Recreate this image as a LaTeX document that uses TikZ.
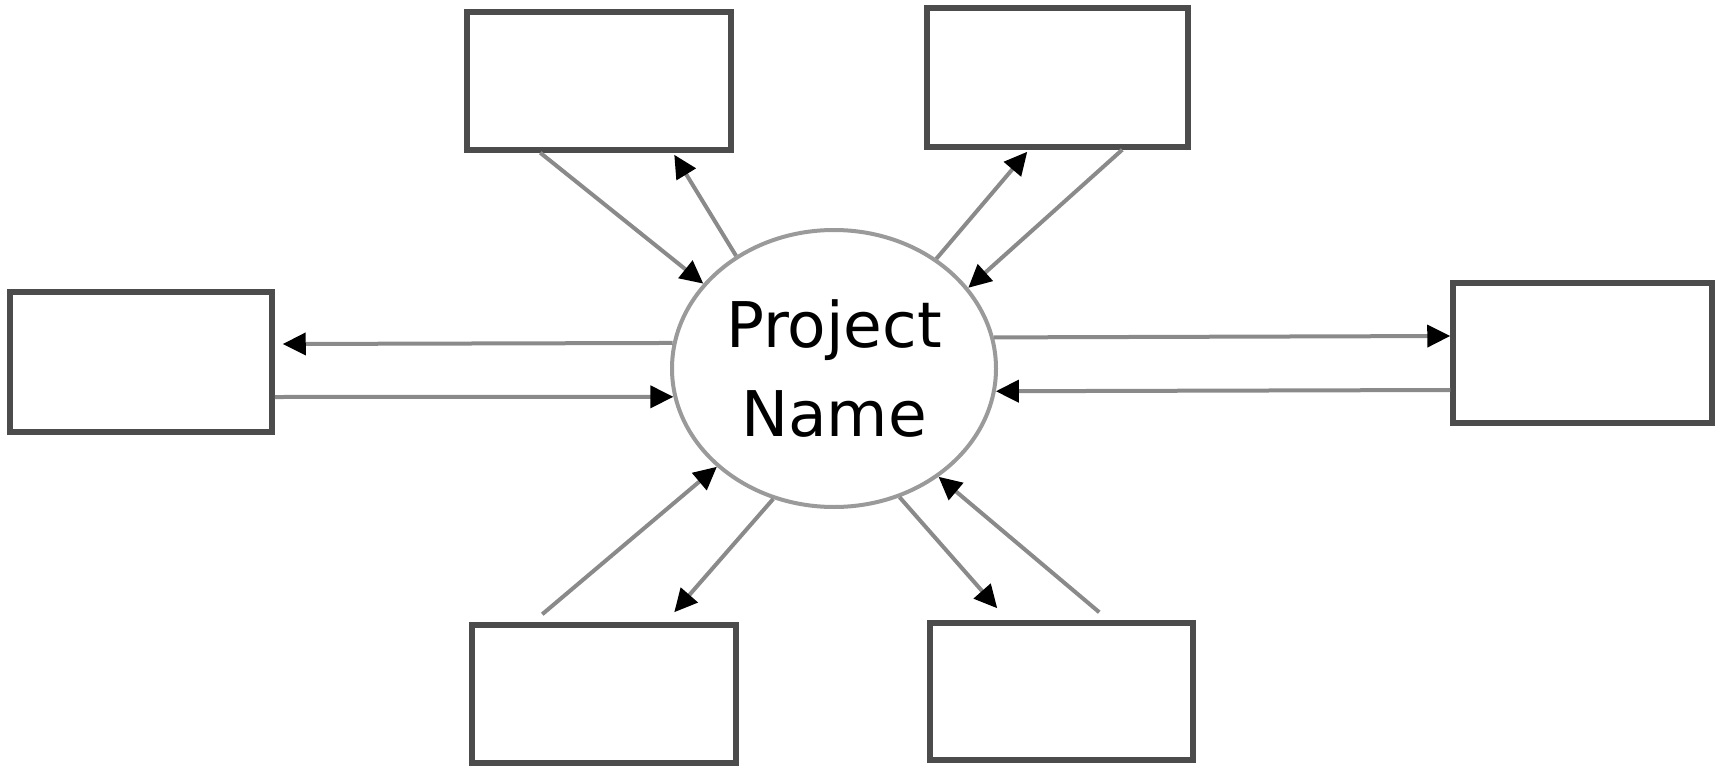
\documentclass[tikz,border=0pt]{standalone}
\usepackage{fontspec}
\setmainfont{DejaVu Sans}
\usetikzlibrary{arrows.meta,shapes.geometric}
\definecolor{boxcol}{HTML}{4C4C4C}
\definecolor{linecol}{HTML}{8A8A8A}
\definecolor{ellcol}{HTML}{9A9A9A}
\tikzset{
  boxnode/.style={draw=boxcol, line width=5.5pt, fill=white, inner sep=0pt},
  hub/.style={ellipse, draw=ellcol, line width=4pt, fill=white, inner sep=0pt,
    minimum width=324pt, minimum height=277pt, align=center,
    font=\fontsize{63}{89}\selectfont},
  flow/.style={draw=linecol, line width=4pt, -{Triangle[length=23pt,width=22pt,color=black]}},
}
\begin{document}
\begin{tikzpicture}[x=1pt,y=-1pt]
\useasboundingbox (0,0) rectangle (1717,771);
\node[hub] (ell) at (834,368.5) {Project\\Name};
\node[boxnode, minimum width=264pt, minimum height=138pt] (tl) at (599,81) {};
\node[boxnode, minimum width=261pt, minimum height=139pt] (tr) at (1057.5,77.5) {};
\node[boxnode, minimum width=262pt, minimum height=140pt] (lb) at (141,362) {};
\node[boxnode, minimum width=259pt, minimum height=140pt] (rb) at (1582.5,353) {};
\node[boxnode, minimum width=264pt, minimum height=138pt] (bl) at (604,694) {};
\node[boxnode, minimum width=263pt, minimum height=137pt] (br) at (1061.5,691.5) {};
% left
\draw[flow] (ell.171) -- ([yshift=18pt,xshift=8pt]lb.east);
\draw[flow] ([yshift=-35pt]lb.east) -- (ell.190);
% right
\draw[flow] (ell.11.7) -- ([yshift=17pt]rb.west);
\draw[flow] ([yshift=-37pt]rb.west) -- (ell.352.2);
% top left
\draw[flow] ([xshift=76pt]tl.south west) -- (ell.147.5);
\draw[flow] (ell.131.6) -- ([xshift=210pt,yshift=-2pt]tl.south west);
% top right
\draw[flow] (ell.47.8) -- ([xshift=103pt,yshift=-2pt]tr.south west);
\draw[flow] ([xshift=198pt]tr.south west) -- (ell.31.2);
% bottom left
\draw[flow] ([xshift=73pt,yshift=8pt]bl.north west) -- (ell.220.4);
\draw[flow] (ell.245.6) -- ([xshift=205pt,yshift=10pt]bl.north west);
% bottom right
\draw[flow] (ell.297) -- ([xshift=70pt,yshift=12pt]br.north west);
\draw[flow] ([xshift=172pt,yshift=8pt]br.north west) -- (ell.314.6);
\end{tikzpicture}
\end{document}
